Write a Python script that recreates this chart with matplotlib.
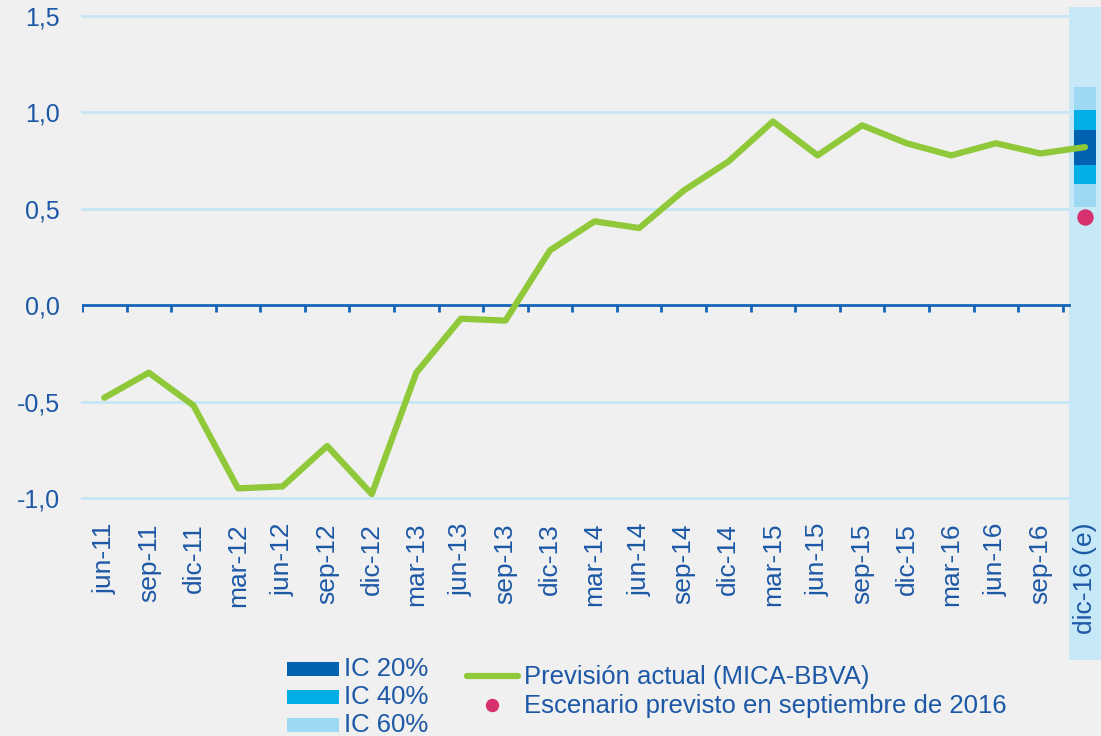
import numpy as np
from matplotlib import pyplot as plt
from matplotlib.patches import Rectangle
from matplotlib.lines import Line2D
import matplotlib.transforms as mtransforms

plt.rcParams['font.family'] = ['Liberation Sans', 'DejaVu Sans']

# datos
fechas = ['jun-11', 'sep-11', 'dic-11', 'mar-12', 'jun-12', 'sep-12', 'dic-12',
          'mar-13', 'jun-13', 'sep-13', 'dic-13', 'mar-14', 'jun-14', 'sep-14',
          'dic-14', 'mar-15', 'jun-15', 'sep-15', 'dic-15', 'mar-16', 'jun-16',
          'sep-16', 'dic-16 (e)']
prevision = [-0.48, -0.35, -0.52, -0.95, -0.94, -0.73, -0.98, -0.35, -0.07, -0.08,
             0.285, 0.435, 0.40, 0.595, 0.745, 0.953, 0.777, 0.933, 0.84, 0.777,
             0.84, 0.787, 0.82]
escenario_sep16 = 0.456
ic20 = [0.725, 0.907]
ic40 = [0.627, 1.010]
ic60 = [0.508, 1.130]
yticks = [-1.0, -0.5, 0.0, 0.5, 1.0, 1.5]

verde = '#8fc93a'
azul_txt = '#1c58a6'
azul_eje = '#1466b8'
c20, c40, c60 = '#0062b0', '#00aee8', '#9ed9f4'
banda = '#c6e8f7'
fondo = '#f0f0f0'

fig = plt.figure(figsize=(11.01, 7.36), dpi=100, facecolor=fondo)
ax = fig.add_axes([82 / 1101, 1 - 498 / 736, 1 - 82 / 1101, (498 - 16) / 736])
ax.set_facecolor(fondo)
x = np.arange(len(fechas))
ax.set_xlim(-0.5, 22.36)
ax.set_ylim(-1.0, 1.5)

# lineas de rejilla
for v in yticks:
    if v != 0:
        ax.plot([-0.5, 21.65], [v, v], color='#c6e6f5', lw=2, zorder=1, clip_on=False)

# banda de prevision (por debajo de las etiquetas del eje)
trans = mtransforms.blended_transform_factory(ax.transData, fig.transFigure)
ax.add_patch(Rectangle((21.65, 1 - 660 / 736), 2, (660 - 7) / 736, transform=trans,
                       facecolor=banda, edgecolor='none', zorder=1.2, clip_on=False))

# eje cero con marcas
ax.plot([-0.5, 21.65], [0, 0], color=azul_eje, lw=2, zorder=3)
ax.vlines(np.arange(-0.5, 21.6, 1), -0.035, 0, color=azul_eje, lw=2, zorder=3)

# intervalos de confianza
w = 0.5
for (lo, hi), c in [(ic60, c60), (ic40, c40), (ic20, c20)]:
    ax.add_patch(Rectangle((22 - w / 2, lo), w, hi - lo, facecolor=c, edgecolor='none', zorder=4))

ax.plot(x, prevision, color=verde, lw=4.5, solid_capstyle='round', zorder=5, clip_on=False)
ax.plot([22], [escenario_sep16], 'o', color='#d6306f', ms=10.8, zorder=6)

ax.set_yticks(yticks)
ax.set_yticklabels([('%.1f' % v).replace('.', ',') for v in yticks])
ax.set_xticks(x)
ax.set_xticklabels(fechas, rotation=90, va='top', ha='center')
ax.tick_params(axis='both', length=0, labelcolor=azul_txt)
ax.tick_params(axis='x', pad=18, labelsize=19)
ax.tick_params(axis='y', pad=16, labelsize=18)
for s in ax.spines.values():
    s.set_visible(False)

# leyenda
for yy, c, t in [(669, c20, 'IC 20%'), (697, c40, 'IC 40%'), (725, c60, 'IC 60%')]:
    fig.patches.append(Rectangle((287 / 1101, 1 - (yy + 7) / 736), 52 / 1101, 14 / 736,
                                 transform=fig.transFigure, facecolor=c, edgecolor='none'))
    fig.text(344 / 1101, 1 - yy / 736, t, fontsize=18.5, color=azul_txt, va='center')
fig.lines.append(Line2D([467 / 1101, 518 / 1101], [1 - 676 / 736, 1 - 676 / 736],
                        transform=fig.transFigure, color=verde, lw=4.5, solid_capstyle='round'))
fig.text(524 / 1101, 1 - 677 / 736, 'Previsión actual (MICA-BBVA)', fontsize=18.5, color=azul_txt, va='center')
fig.lines.append(Line2D([492 / 1101], [1 - 705 / 736], transform=fig.transFigure,
                        marker='o', color='#d6306f', ms=8.6, ls='none'))
fig.text(524 / 1101, 1 - 706 / 736, 'Escenario previsto en septiembre de 2016', fontsize=18.5, color=azul_txt, va='center')

plt.savefig('out.png', dpi=100, facecolor=fondo)
